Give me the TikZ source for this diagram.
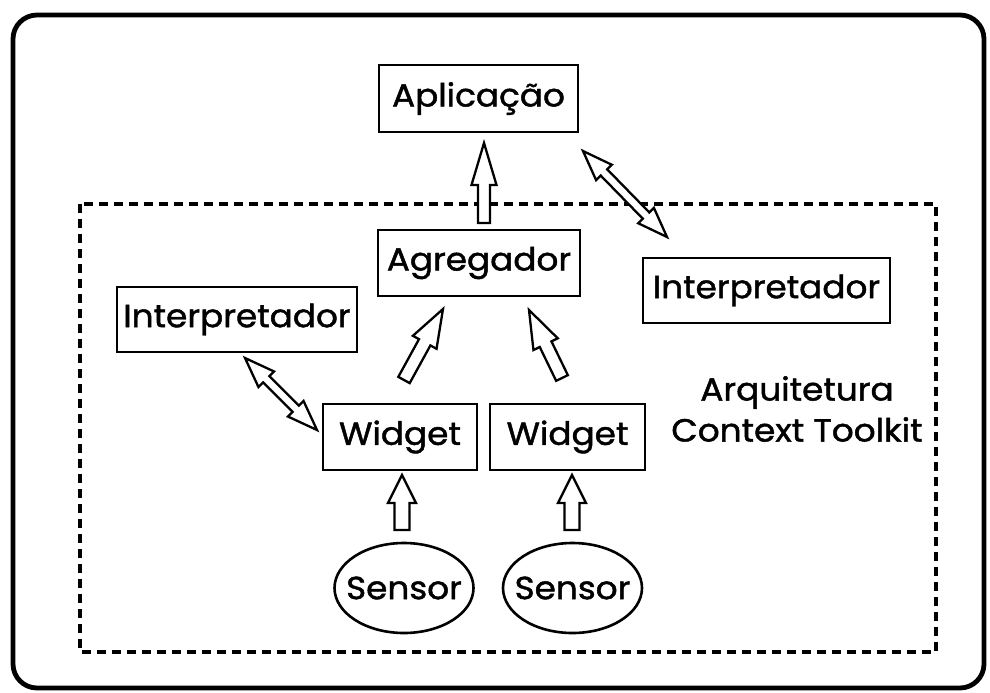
\documentclass[tikz,border=0pt]{standalone}
\usepackage{fontspec}
\setmainfont{Poppins}[FakeStretch=1.07, FakeBold=1.4]
\usetikzlibrary{calc,shapes.geometric}

\tikzset{
  lbl/.style={font=\fontsize{32}{41}\selectfont},
  box/.style={lbl, draw, line width=2.6pt, inner sep=0pt},
  sensor/.style={lbl, ellipse, draw, line width=2.6pt, inner xsep=-20pt, inner ysep=-8pt,
    minimum width=139pt, minimum height=90pt},
  hollow/.style={draw, line width=2.3pt, fill=white, line join=miter},
}

% single-headed hollow arrow: tail, tip, shaft half width, head half width, head length
\newcommand\hollowarrow[5]{%
  \coordinate (hb) at ($(#2)!#5!(#1)$);
  \draw[hollow] ($(#1)!#3!90:(#2)$) -- ($(hb)!#3!-90:(#1)$) -- ($(hb)!#4!-90:(#1)$) -- (#2)
    -- ($(hb)!#4!90:(#1)$) -- ($(hb)!#3!90:(#1)$) -- ($(#1)!#3!-90:(#2)$) -- cycle;
}
% double-headed hollow arrow between two points
\newcommand\dhollowarrow[5]{%
  \coordinate (hb1) at ($(#1)!#5!(#2)$);
  \coordinate (hb2) at ($(#2)!#5!(#1)$);
  \draw[hollow] (#1) -- ($(hb1)!#4!90:(#2)$) -- ($(hb1)!#3!90:(#2)$)
    -- ($(hb2)!#3!-90:(#1)$) -- ($(hb2)!#4!-90:(#1)$) -- (#2)
    -- ($(hb2)!#4!90:(#1)$) -- ($(hb2)!#3!90:(#1)$)
    -- ($(hb1)!#3!-90:(#2)$) -- ($(hb1)!#4!-90:(#2)$) -- cycle;
}

\begin{document}
\begin{tikzpicture}[x=1pt, y=-1pt]
\useasboundingbox (0,0) rectangle (990,693);

% outer frame
\draw[line width=4.8pt, rounded corners=24pt] (13,15) rectangle (984,688);

% toolkit boundary
\draw[line width=4pt, dash pattern=on 9pt off 6pt] (80,204) rectangle (936,652);

% components
\node[box, minimum width=199pt, minimum height=67pt] (apl) at (478.5,98.5) {Aplicação};
\node[box, minimum width=202pt, minimum height=66pt] (agr) at (479,263) {Agregador};
\node[box, minimum width=240pt, minimum height=65pt] (intl) at (237,319.5) {Interpretador};
\node[box, minimum width=247pt, minimum height=65pt] (intr) at (766.5,290.5) {Interpretador};
\node[box, minimum width=154pt, minimum height=66pt] (wid1) at (400,437) {Widget};
\node[box, minimum width=155pt, minimum height=66pt] (wid2) at (567.5,437) {Widget};
\node[sensor] (sen1) at (404,588) {Sensor};
\node[sensor] (sen2) at (572.5,588) {Sensor};

\node[lbl, align=center] (arq) at (797,409) {Arquitetura\\Context Toolkit};

% connector end points next to the components
\coordinate (agr-up)   at (484,223);
\coordinate (apl-in)   at (484,143);
\coordinate (w1-out)   at (404,380);
\coordinate (agr-in1)  at (443,309);
\coordinate (w2-out)   at (562,378);
\coordinate (agr-in2)  at (529,310);
\coordinate (s1-out)   at (402,530);
\coordinate (w1-in)    at (402,475);
\coordinate (s2-out)   at (572,530);
\coordinate (w2-in)    at (572,475);
\coordinate (il-end)   at (245,358);
\coordinate (w1-end)   at (317,430);
\coordinate (apl-end)  at (583,151);
\coordinate (ir-end)   at (667,237);

% data flow
\hollowarrow{agr-up}{apl-in}{6pt}{12.5pt}{42pt}
\hollowarrow{w1-out}{agr-in1}{6.5pt}{13.5pt}{38pt}
\hollowarrow{w2-out}{agr-in2}{6.5pt}{13.5pt}{38pt}
\hollowarrow{s1-out}{w1-in}{7.5pt}{14pt}{28pt}
\hollowarrow{s2-out}{w2-in}{7.5pt}{14pt}{28pt}
\dhollowarrow{il-end}{w1-end}{4.5pt}{11pt}{30pt}
\dhollowarrow{apl-end}{ir-end}{4.5pt}{11pt}{30pt}
\end{tikzpicture}
\end{document}
